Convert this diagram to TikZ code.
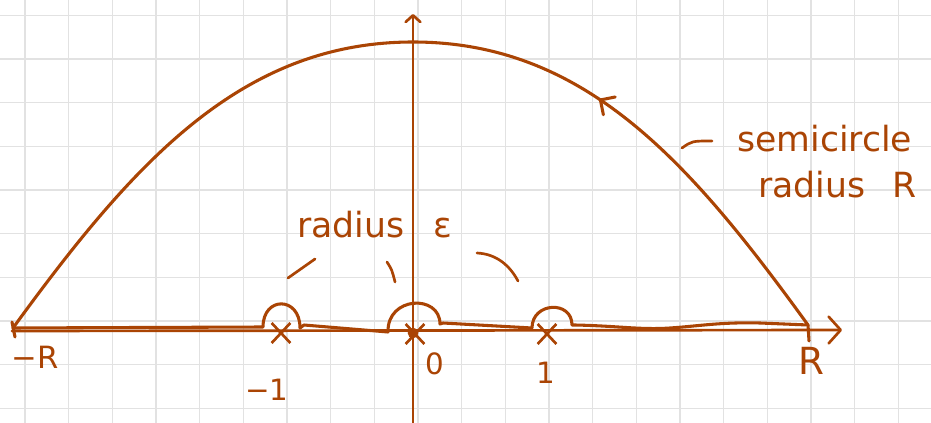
\documentclass[tikz,border=0pt]{standalone}
\usepackage{fontspec}
\setmainfont{DejaVu Sans}
\usetikzlibrary{arrows.meta,shapes.misc,decorations.markings}
\definecolor{ink}{RGB}{170,68,4}
\definecolor{gridgrey}{RGB}{226,226,226}
\tikzset{
  paper/.style={draw=gridgrey,line width=1pt},
  pen/.style={draw=ink,line width=2.3pt,line cap=round,line join=round},
  lbl/.style={text=ink,inner sep=0pt,font=\fontsize{26}{30}\selectfont},
  numlbl/.style={lbl,font=\fontsize{22}{26}\selectfont},
  pole/.style={cross out,draw=ink,line width=2pt,minimum width=12pt,
               minimum height=13pt,inner sep=0pt},
  blob/.style={circle,fill=ink,minimum size=8pt,inner sep=0pt},
  hand/.style={-{Straight Barb[length=9pt,width=20pt,round]}},
  arcmark/.style={postaction={decorate},decoration={markings,
    mark=at position 0.61 with {\arrow{Straight Barb[length=8pt,width=16pt,round]}}}},
}

\begin{document}
\begin{tikzpicture}[x=0.75pt,y=-0.75pt]
  \fill[white] (0,0) rectangle (931,423);
  \useasboundingbox (0,0) rectangle (931,423);

  % squared paper
  \foreach \i in {0,...,20}
    \draw[paper] ({25+43.67*\i},0) -- ({25+43.67*\i},423);
  \foreach \j in {0,...,9}
    \draw[paper] (0,{15.3+43.67*\j}) -- (931,{15.3+43.67*\j});

  % axes
  \coordinate (xl) at (12,331);
  \coordinate (xr) at (842,330);
  \coordinate (yb) at (413,423);
  \coordinate (yt) at (413,14);
  \draw[pen,line width=2pt,hand] (xl) -- (xr);
  \draw[pen,line width=2pt,-{Straight Barb[length=5pt,width=11pt,round]}] (yb) -- (yt);

  % contour
  \coordinate (mR)  at (13,328);
  \coordinate (pR)  at (808,325);
  \coordinate (top) at (413,42);
  \draw[pen] (mR) -- (263,327) .. controls (263,296) and (300,296) .. (300,328)
    -- (304,325) -- (388,332) .. controls (387,296) and (440,294) .. (440,324)
    -- (443,323) -- (532,328) .. controls (532,302) and (572,300) .. (572,325)
    -- (575,325) .. controls (620,326) and (640,330) .. (670,328)
    .. controls (700,326) and (720,322) .. (760,323) -- (pR);
  \draw[pen,arcmark] (pR) .. controls (690,162) and (585,42) .. (top);
  \draw[pen] (top) .. controls (241,42) and (133,163) .. (mR);
  \draw[pen] (pR) -- (809,341);
  \draw[pen] (12,322) -- (15,337);

  % poles
  \node[pole] (pm1) at (281,333) {};
  \node[pole] (p0)  at (415,334) {};
  \node[blob] (p0d) at (413,333) {};
  \node[pole] (pp1) at (547,334) {};

  % labels
  \node[lbl,font=\fontsize{23}{26}\selectfont] (mRl) at (35,357) {−R};
  \node[lbl,font=\fontsize{28}{30}\selectfont] (pRl) at (811,361) {R};
  \node[numlbl] (m1l) at (267,390) {−1};
  \node[numlbl] (z0l) at (435,364) {0};
  \node[numlbl] (p1l) at (546,373) {1};

  \node[lbl,anchor=base west] (eps) at (297,238) {radius\hspace{22pt}ε};
  \node[lbl,anchor=base west] (semi) at (737,152) {semicircle};
  \node[lbl,anchor=base west] (radR) at (758,198) {radius\hspace{20pt}R};

  % pointer strokes
  \coordinate (ea1) at (315,259);  \coordinate (ea2) at (288,278);
  \coordinate (eb1) at (387,262);  \coordinate (eb2) at (395,282);
  \coordinate (ec1) at (477,253);  \coordinate (ec2) at (518,281);
  \coordinate (sd1) at (712,141);  \coordinate (sd2) at (682,148);
  \draw[pen,line width=2pt] (ea1) -- (ea2);
  \draw[pen,line width=2pt] (eb1) .. controls (392,270) .. (eb2);
  \draw[pen,line width=2pt] (ec1) .. controls (497,254) and (510,266) .. (ec2);
  \draw[pen,line width=2pt] (sd1) .. controls (692,141) .. (sd2);
\end{tikzpicture}
\end{document}
